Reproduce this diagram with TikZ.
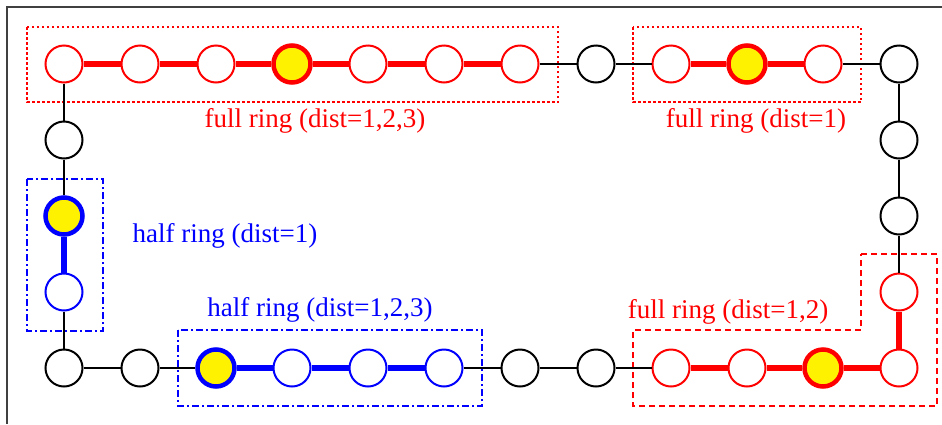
\documentclass[tikz,border=0pt]{standalone}
\usepackage{fontspec}
\setmainfont{Liberation Serif}
\begin{document}
\begin{tikzpicture}[x=1pt,y=-1pt,
  nd/.style={circle,draw,fill=white,line width=2pt,minimum size=37pt,inner sep=0pt},
  blk/.style={nd,draw=black},
  rd/.style={nd,draw=red},
  bl/.style={nd,draw=blue},
  ryel/.style={nd,draw=red,fill=yellow,line width=4.5pt,minimum size=37pt},
  byel/.style={nd,draw=blue,fill=yellow,line width=4.5pt,minimum size=37pt},
  thin/.style={draw=black,line width=1.5pt},
  redthick/.style={draw=red,line width=5.5pt},
  bluethick/.style={draw=blue,line width=5.5pt},
  redlbl/.style={text=red,font=\fontsize{27}{31}\selectfont,anchor=base,inner sep=0pt},
  bluelbl/.style={text=blue,font=\fontsize{27}{31}\selectfont,anchor=base,inner sep=0pt},
  reddot/.style={draw=red,line width=2pt,dash pattern=on 2.5pt off 2.5pt},
  reddash/.style={draw=red,line width=1.5pt,dash pattern=on 6pt off 4pt},
  bluedd/.style={draw=blue,line width=1.8pt,dash pattern=on 7pt off 3pt on 2pt off 3pt}]
\useasboundingbox (0,0) rectangle (942,424);
\draw[line width=1.3pt,black!75] (7,424) -- (7,7) -- (942,7);
% boxes
\draw[reddot] (27,27) rectangle (558,102);
\draw[reddot] (633,27) rectangle (861,102);
\draw[bluedd] (27,179) rectangle (103,331);
\draw[bluedd] (178,330) rectangle (482,406);
\draw[reddash] (861,254) -- (937,254) -- (937,406) -- (633,406) -- (633,330) -- (861,330) -- cycle;
% top row
\node[rd]   (t0)  at (64,64) {};
\node[rd]   (t1)  at (140,64) {};
\node[rd]   (t2)  at (216,64) {};
\node[ryel] (t3)  at (292,64) {};
\node[rd]   (t4)  at (368,64) {};
\node[rd]   (t5)  at (444,64) {};
\node[rd]   (t6)  at (520,64) {};
\node[blk]  (t7)  at (596,64) {};
\node[rd]   (t8)  at (671,64) {};
\node[ryel] (t9)  at (747,64) {};
\node[rd]   (t10) at (823,64) {};
\node[blk]  (t11) at (899,64) {};
% left column
\node[blk]  (l1) at (64,140) {};
\node[byel] (l2) at (64,216) {};
\node[bl]   (l3) at (64,292) {};
% right column
\node[blk]  (r1) at (899,140) {};
\node[blk]  (r2) at (899,216) {};
\node[rd]   (r3) at (899,292) {};
% bottom row
\node[blk]  (b0)  at (64,368) {};
\node[blk]  (b1)  at (140,368) {};
\node[byel] (b2)  at (216,368) {};
\node[bl]   (b3)  at (292,368) {};
\node[bl]   (b4)  at (368,368) {};
\node[bl]   (b5)  at (444,368) {};
\node[blk]  (b6)  at (520,368) {};
\node[blk]  (b7)  at (596,368) {};
\node[rd]   (b8)  at (671,368) {};
\node[rd]   (b9)  at (747,368) {};
\node[ryel] (b10) at (823,368) {};
\node[rd]   (b11) at (899,368) {};
% thick ring edges
\path[redthick] (t0) -- (t1) (t1) -- (t2) (t2) -- (t3) (t3) -- (t4) (t4) -- (t5) (t5) -- (t6);
\path[redthick] (t8) -- (t9) (t9) -- (t10);
\path[redthick] (b8) -- (b9) (b9) -- (b10) (b10) -- (b11) (r3) -- (b11);
\path[bluethick] (b2) -- (b3) (b3) -- (b4) (b4) -- (b5) (l2) -- (l3);
% thin edges
\path[thin] (t6) -- (t7) (t7) -- (t8) (t10) -- (t11) (t11) -- (r1) (r1) -- (r2) (r2) -- (r3);
\path[thin] (t0) -- (l1) (l1) -- (l2) (l3) -- (b0) (b0) -- (b1) (b1) -- (b2);
\path[thin] (b5) -- (b6) (b6) -- (b7) (b7) -- (b8);
% labels
\node[redlbl]  (lab1) at (315,127) {full ring (dist=1,2,3)};
\node[redlbl]  (lab2) at (756,127) {full ring (dist=1)};
\node[bluelbl] (lab3) at (225,242) {half ring (dist=1)};
\node[bluelbl] (lab4) at (320,316) {half ring (dist=1,2,3)};
\node[redlbl]  (lab5) at (728,318) {full ring (dist=1,2)};
\end{tikzpicture}
\end{document}
